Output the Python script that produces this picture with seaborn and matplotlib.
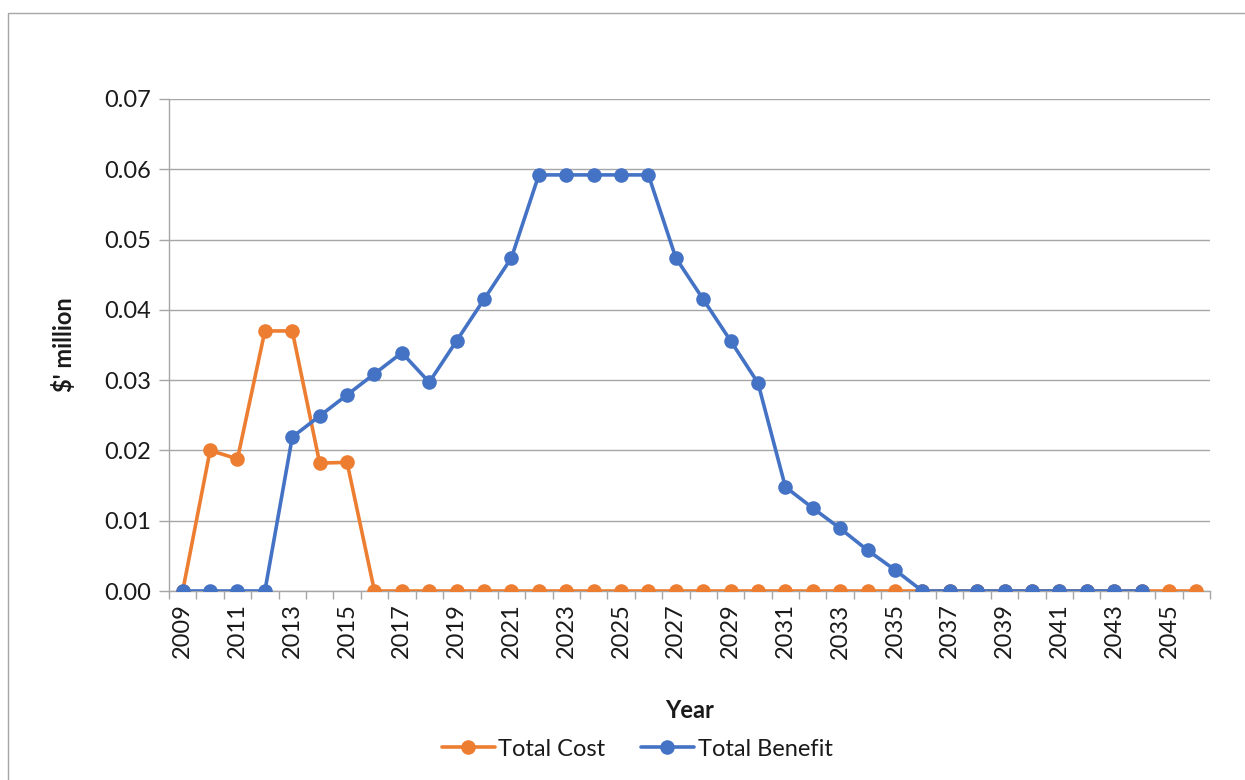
import numpy as np
import pandas as pd
import matplotlib
matplotlib.use("Agg")
import matplotlib.pyplot as plt
import seaborn as sns
from matplotlib.patches import Rectangle
from matplotlib.lines import Line2D

years = list(range(2009, 2047))
total_cost = [0, 0.0200, 0.0188, 0.0370, 0.0370, 0.0182, 0.0183] + [0.0] * 31
total_benefit = [0, 0, 0, 0, 0.0219, 0.0249, 0.0279, 0.0309, 0.0339, 0.0297,
                 0.0356, 0.0415, 0.0474, 0.0592, 0.0592, 0.0592, 0.0592, 0.0592,
                 0.0474, 0.0415, 0.0356, 0.0296, 0.0148, 0.0118, 0.0089, 0.0058,
                 0.0030, 0, 0, 0, 0, 0, 0, 0, 0, 0] + [np.nan, np.nan]
series_names = ["Total Cost", "Total Benefit"]
colors = ["#ED7D31", "#4472C4"]

sns.set_theme(style="white")
plt.rcParams['font.family'] = ['Lato', 'DejaVu Sans']

df = pd.DataFrame({
    "Year": years * 2,
    "value": total_cost + total_benefit,
    "series": [series_names[0]] * len(years) + [series_names[1]] * len(years),
})

fig = plt.figure(figsize=(12.45, 7.8), dpi=100)
ax = fig.add_axes([169 / 1245, 1 - 591 / 780, (1210 - 169) / 1245, (591 - 99) / 780])

sns.lineplot(data=df, x="Year", y="value", hue="series", palette=colors,
             marker="o", markersize=10.5, markeredgewidth=0, linewidth=2.6,
             ax=ax, legend=False, zorder=3)

ax.set_xlim(2008.5, 2046.5)
ax.set_ylim(0, 0.07)
yt = np.arange(0, 0.0701, 0.01)
ax.set_yticks(yt)
ax.set_yticklabels([f"{v:.2f}" for v in yt], fontsize=17, color="#1a1a1a")
ax.yaxis.grid(True, color="#A6A6A6", linewidth=1)
ax.set_axisbelow(True)

ax.set_xticks(years[::2])
ax.set_xticklabels([str(y) for y in years[::2]], rotation=90, fontsize=17, color="#1a1a1a")
ax.set_xticks(np.arange(2008.5, 2047, 1), minor=True)
ax.tick_params(axis="x", which="major", length=0, pad=9)
ax.tick_params(axis="x", which="minor", length=6, color="#A6A6A6", width=1, direction="out", bottom=True)
ax.tick_params(axis="y", which="major", length=7, color="#A6A6A6", width=1, direction="out", left=True, pad=6)

for s in ["top", "right"]:
    ax.spines[s].set_visible(False)
for s in ["left", "bottom"]:
    ax.spines[s].set_color("#A6A6A6")
    ax.spines[s].set_linewidth(1)

ax.set_xlabel("Year", fontsize=17, fontweight="bold", labelpad=29, color="#1a1a1a")
ax.set_ylabel("$' million", fontsize=17, fontweight="bold", labelpad=20, color="#1a1a1a")

handles = [Line2D([0], [0], color=c, marker="o", markersize=10.5, markeredgewidth=0, linewidth=2.6)
           for c in colors]
fig.legend(handles, series_names, loc="center", bbox_to_anchor=(637 / 1245, 1 - 749 / 780),
           ncol=2, frameon=False, fontsize=17, handlelength=2.25, columnspacing=1.5, handletextpad=0.15,
           labelcolor="#1a1a1a")

fig.patches.append(Rectangle((8 / 1245, -0.1), 1.2, 1 - 13 / 780 + 0.1, transform=fig.transFigure,
                             fill=False, edgecolor="#A6A6A6", linewidth=1))

fig.savefig("out.png", dpi=100)
